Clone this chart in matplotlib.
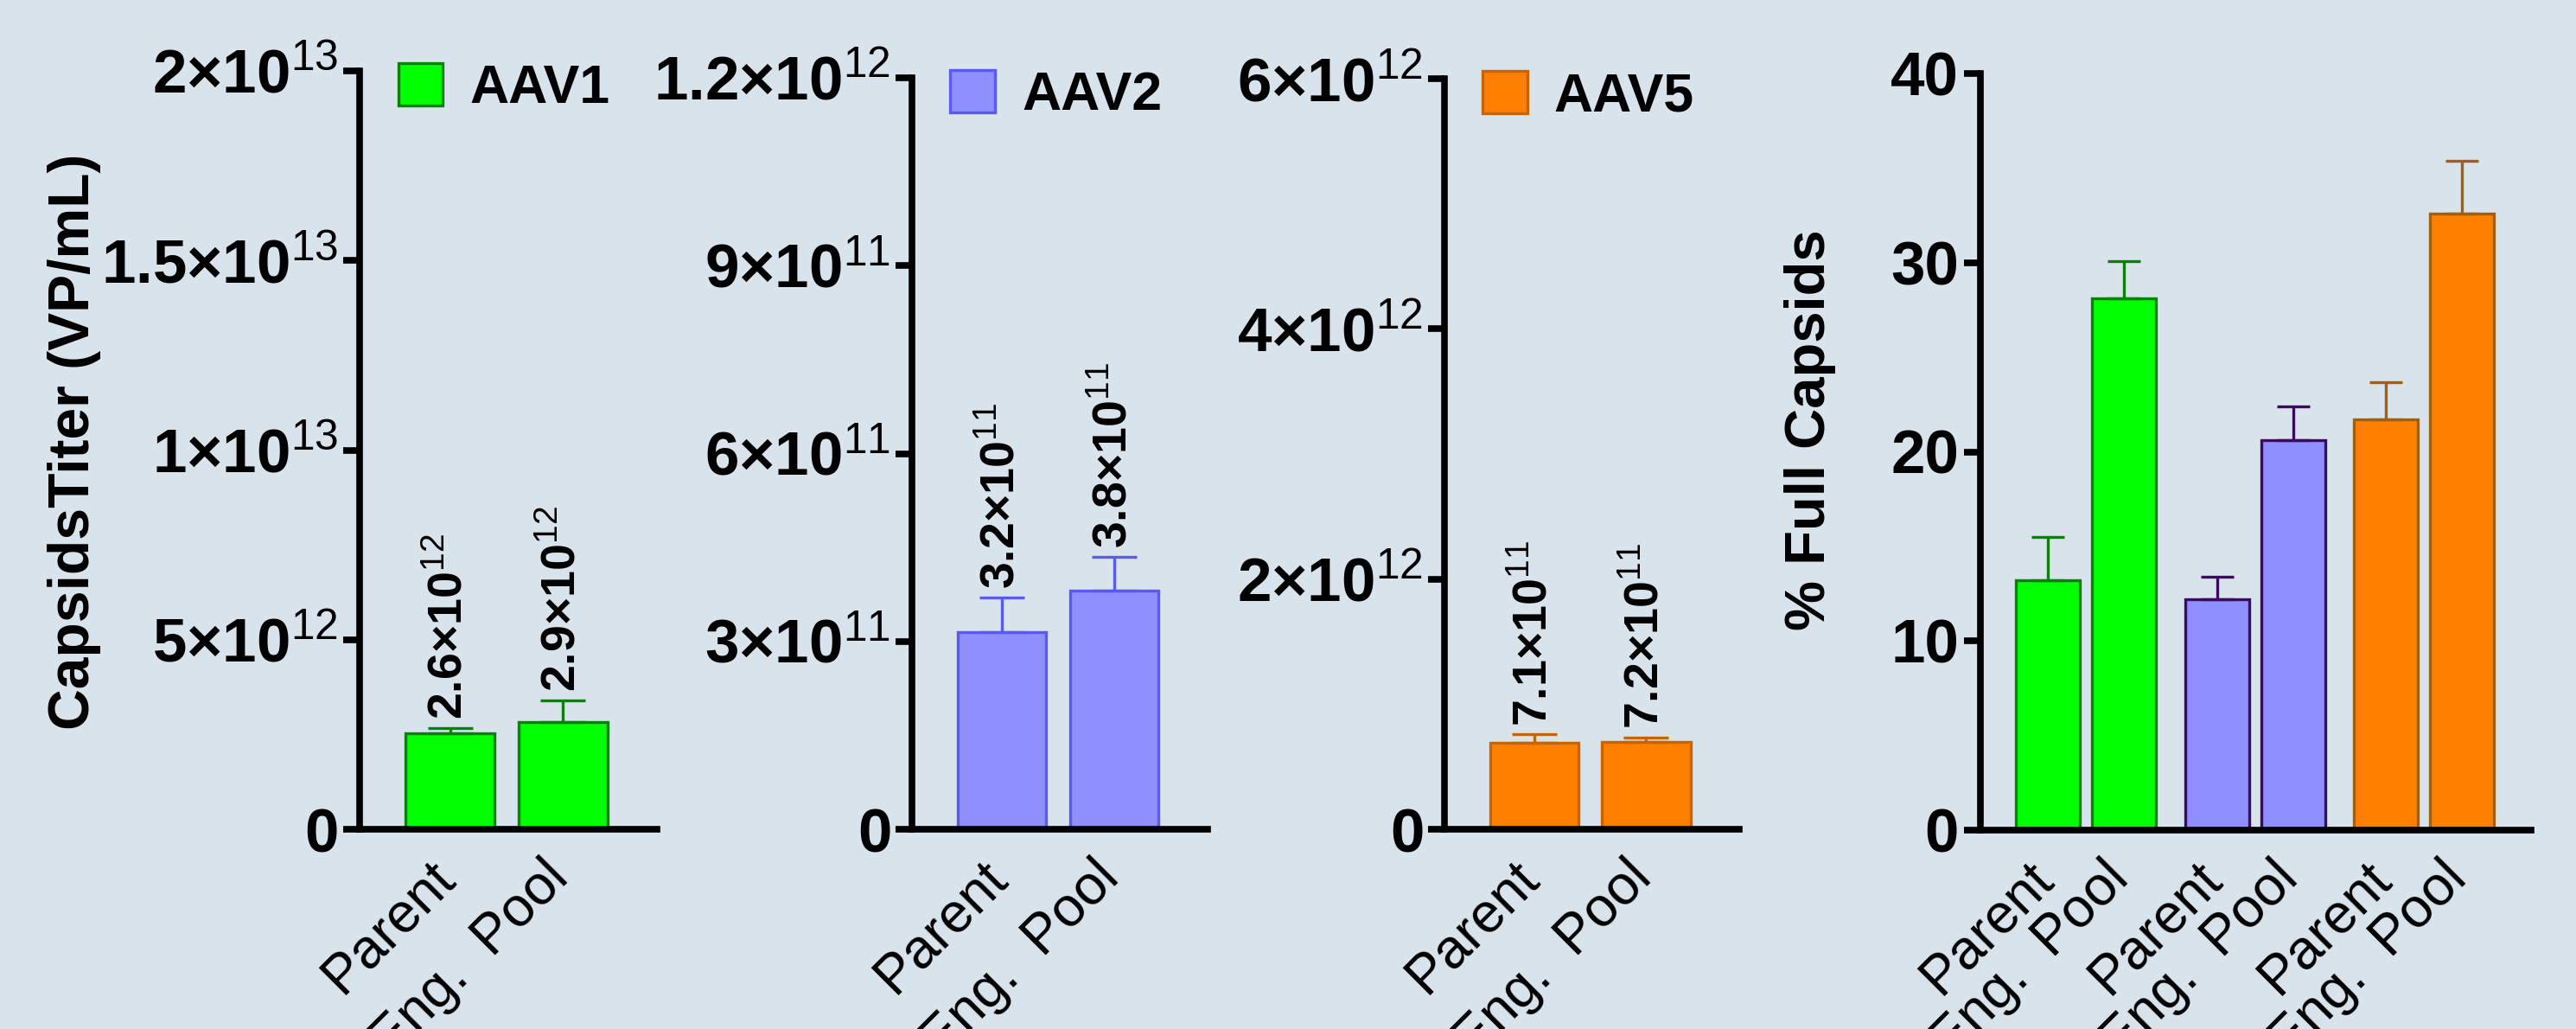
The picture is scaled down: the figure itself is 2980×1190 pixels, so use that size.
import numpy as np
import matplotlib
matplotlib.use("Agg")
import matplotlib.pyplot as plt
from matplotlib.transforms import ScaledTranslation

plt.rcParams['font.family'] = ['Liberation Sans', 'DejaVu Sans']
plt.rcParams['mathtext.fontset'] = 'custom'
plt.rcParams['mathtext.rm'] = 'Liberation Sans'
plt.rcParams['mathtext.bf'] = 'Liberation Sans:bold'
plt.rcParams['mathtext.it'] = 'Liberation Sans:italic'

groups = ["Parent", "Eng.  Pool"]
serotypes = ["AAV1", "AAV2", "AAV5"]

# capsid titer (VP/mL)
aav1_titer = [2.53e12, 2.83e12]
aav1_titer_err = [0.14e12, 0.57e12]
aav2_titer = [3.15e11, 3.81e11]
aav2_titer_err = [0.55e11, 0.54e11]
aav5_titer = [6.94e11, 7.0e11]
aav5_titer_err = [0.63e11, 0.36e11]

# numbers printed above the bars
aav1_titer_lbl = [2.6e12, 2.9e12]
aav2_titer_lbl = [3.2e11, 3.8e11]
aav5_titer_lbl = [7.1e11, 7.2e11]

# y ticks of the titer panels
aav1_ticks = [0, 5e12, 1e13, 1.5e13, 2e13]
aav2_ticks = [0, 3e11, 6e11, 9e11, 1.2e12]
aav5_ticks = [0, 2e12, 4e12, 6e12]

# % full capsids
aav1_full = [13.2, 28.1]
aav1_full_err = [2.3, 2.0]
aav2_full = [12.2, 20.6]
aav2_full_err = [1.2, 1.8]
aav5_full = [21.7, 32.6]
aav5_full_err = [2.0, 2.8]
full_ticks = [0, 10, 20, 30, 40]

fills = ['#00FF00', '#8F8FFF', '#FF8000']
edges_titer = ['#0B800B', '#5A5AF0', '#C86400']
edges_full = ['#0B800B', '#3D0B5E', '#A0600F']
bg = '#D9E3EC'

W, H = 2980, 1190
fig = plt.figure(figsize=(W / 100, H / 100), dpi=100, facecolor=bg)


def sci(v, dec=None):
    if v == 0:
        return r'$\mathbf{0}$'
    e = int(np.floor(np.log10(v)))
    m = v / 10 ** e
    ms = f'{m:.{dec}f}' if dec is not None else f'{m:g}'
    return r'$\mathbf{%s×10}^{\mathrm{%d}}$' % (ms, e)


def make_ax(left, right, top, bottom):
    ax = fig.add_axes([left / W, (H - bottom) / H, (right - left) / W, (bottom - top) / H])
    ax.set_facecolor('none')
    for s in ['top', 'right']:
        ax.spines[s].set_visible(False)
    for s in ['left', 'bottom']:
        ax.spines[s].set_linewidth(5.5)
    ax.tick_params(axis='y', length=14, width=5.5, pad=4, labelsize=51)
    ax.tick_params(axis='x', length=0, pad=18, labelsize=46)
    return ax


def style_xlabels(ax):
    shift = ScaledTranslation(-18 / 72, 0, fig.dpi_scale_trans)
    for t in ax.get_xticklabels():
        t.set_rotation(45)
        t.set_ha('right')
        t.set_va('top')
        t.set_rotation_mode('anchor')
        t.set_transform(t.get_transform() + shift)


def bar_group(ax, x, vals, errs, fill, edge, width, cap):
    b = ax.bar(x, vals, width, color=fill, edgecolor=edge, linewidth=2.4, zorder=2)
    ax.errorbar(x, vals, yerr=[np.zeros(len(vals)), errs], fmt='none', ecolor=edge,
                elinewidth=2.4, capsize=cap, capthick=2.4, zorder=3)
    return b


titer_sets = [
    (aav1_titer, aav1_titer_err, aav1_titer_lbl, aav1_ticks),
    (aav2_titer, aav2_titer_err, aav2_titer_lbl, aav2_ticks),
    (aav5_titer, aav5_titer_err, aav5_titer_lbl, aav5_ticks),
]
frames = [(416, 760, 82), (1055, 1397, 90), (1671, 2012, 91)]

for i, (vals, errs, lbls, ticks) in enumerate(titer_sets):
    l, r, t = frames[i]
    ax = make_ax(l, r, t, 959)
    x = np.arange(len(groups))
    b = bar_group(ax, x, vals, errs, fills[i], edges_titer[i], 0.79, 18.7)
    for xi, v, e, lb in zip(x, vals, errs, lbls):
        ax.annotate(sci(lb, 1), (xi, v + e), xytext=(0, 7), textcoords='offset points',
                    rotation=90, ha='center', va='bottom', fontsize=40)
    ax.set_xlim(-0.8, 1.83)
    ax.set_ylim(0, ticks[-1])
    ax.set_yticks(ticks)
    ax.set_yticklabels([sci(v) for v in ticks])
    ax.set_xticks(x)
    ax.set_xticklabels(groups)
    style_xlabels(ax)
    ax.legend(handles=[b], labels=[serotypes[i]], loc='upper left', bbox_to_anchor=(0.13, 1.01),
              frameon=False, prop={'weight': 'bold', 'size': 45}, handlelength=0.82,
              handleheight=0.82, handletextpad=0.5, borderpad=0, borderaxespad=0)
    if i == 0:
        ax.set_ylabel('CapsidsTiter (VP/mL)', fontsize=47.5, fontweight='bold')
        ax.yaxis.set_label_coords(-0.87, 0.511)

# % full capsids panel
ax = make_ax(2291, 2928, 85, 960)
full_sets = [(aav1_full, aav1_full_err), (aav2_full, aav2_full_err), (aav5_full, aav5_full_err)]
xt, xl = [], []
for g, (vals, errs) in enumerate(full_sets):
    x = np.arange(len(groups)) + 2.22 * g
    bar_group(ax, x, vals, errs, fills[g], edges_full[g], 0.84, 13.7)
    xt += list(x)
    xl += groups
ax.set_xlim(-0.89, 6.35)
ax.set_ylim(0, full_ticks[-1])
ax.set_yticks(full_ticks)
ax.set_yticklabels([str(v) for v in full_ticks], fontweight='bold')
ax.set_xticks(xt)
ax.set_xticklabels(xl)
style_xlabels(ax)
ax.set_ylabel('% Full Capsids', fontsize=47, fontweight='bold')
ax.yaxis.set_label_coords(-0.262, 0.529)

fig.savefig('out.png', dpi=100, facecolor=bg)
